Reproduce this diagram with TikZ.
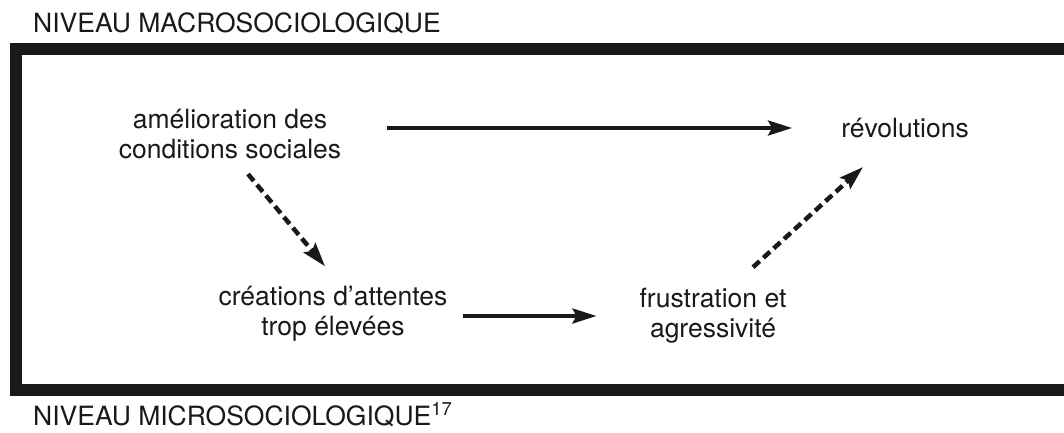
\documentclass[tikz,border=0pt]{standalone}
\usepackage{fontspec}
\setmainfont{TeX Gyre Heros}
\usetikzlibrary{arrows.meta}

\begin{document}
\begin{tikzpicture}[x=1pt,y=-1pt]

        \useasboundingbox (0,0) rectangle (1064,432);

        % cadre
        \draw[line width=12pt, black!90] (1064,48.5) -- (15.5,48.5) -- (15.5,390) -- (1064,390);

        \begin{scope}[every node/.style={inner sep=0pt, align=center, text=black!90,
            font=\fontsize{26.5}{30}\selectfont}]
          \node[anchor=base west] (macro) at (33,32) {NIVEAU MACROSOCIOLOGIQUE};
          \node[anchor=base west] (micro) at (33,425) {NIVEAU MICROSOCIOLOGIQUE\textsuperscript{17}};
          \node (1) at (230,134) {amélioration des\\conditions sociales};
          \node (2) at (905,128) {révolutions};
          \node (3) at (333,314) {créations d'attentes\\trop élevées};
          \node (4) at (713,316) {frustration et\\agressivité};
        \end{scope}

        \begin{scope}[every edge/.style={draw, black!90, line width=3.5pt,
            -{Stealth[length=24pt,width=15pt,inset=4pt]}}]
          \path (1.east |- 2.west) edge[shorten <=46pt, shorten >=49pt] (2.west);
          \path (3.east |- 4.west) edge[shorten <=15pt, shorten >=43pt] (4.west);
          \begin{scope}[every edge/.append style={line width=4.5pt, dash pattern=on 9pt off 5pt}]
            \path ([xshift=18pt,yshift=-15pt]1.south) edge ([xshift=-8pt,yshift=20pt]3.north);
            \path ([xshift=40pt,yshift=21pt]4.north) edge ([xshift=-42pt,yshift=-29pt]2.south);
          \end{scope}
        \end{scope}

      \end{tikzpicture}
\end{document}
